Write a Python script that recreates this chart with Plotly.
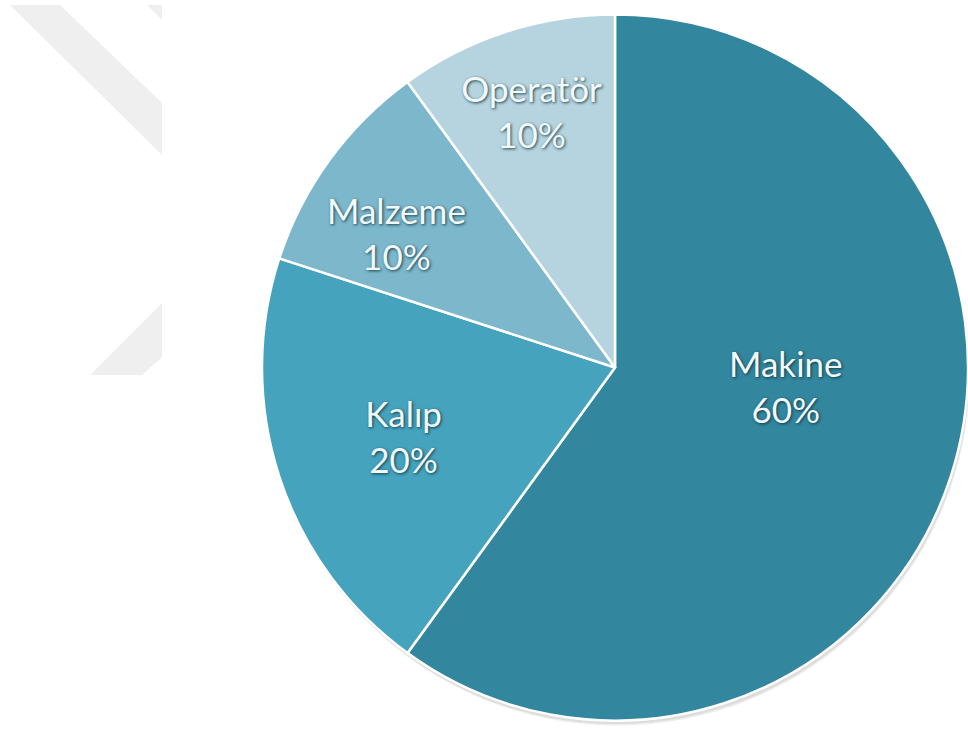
import math
import plotly.graph_objects as go

# Share of causes
categories = ["Makine", "Kalıp", "Malzeme", "Operatör"]
shares = [60, 20, 10, 10]
slice_colors = ["#32869e", "#45a3bd", "#7cb7cc", "#b6d4df"]

W, H = 968, 738

# Pie placement in pixels (centre and radius)
CX, CY, R = 615.0, 367.5, 353.0

label_font = dict(family="Lato", size=35, color="#f2f9fb",
                  shadow="1px 1px 3px rgba(10,50,60,0.9)")

# Slices whose label is set by hand: (clockwise angle from top in deg, radius fraction)
manual_labels = {"Makine": (96.2, 0.487), "Malzeme": (301.6, 0.728)}

text_pos = ["none" if c in manual_labels else "inside" for c in categories]

fig = go.Figure()

fig.add_trace(go.Pie(
    labels=categories,
    values=shares,
    sort=False,
    direction="clockwise",
    rotation=0,
    marker=dict(colors=slice_colors, line=dict(color="#ffffff", width=2.5)),
    texttemplate="%{label}<br>%{percent:.0%}",
    textposition=text_pos,
    insidetextorientation="horizontal",
    textfont=label_font,
    hoverinfo="label+percent",
    showlegend=False,
    domain=dict(x=[(CX - R) / W, min(1.0, (CX + R) / W)],
                y=[(H - CY - R) / H, (H - CY + R) / H]),
))

total = sum(shares)
for cat, val in zip(categories, shares):
    if cat not in manual_labels:
        continue
    ang, frac = manual_labels[cat]
    a = math.radians(ang)
    px = CX + frac * R * math.sin(a)
    py = CY - frac * R * math.cos(a)
    fig.add_annotation(
        x=px / W, y=1 - py / H, xref="paper", yref="paper",
        text=f"{cat}<br>{round(100 * val / total)}%",
        showarrow=False, xanchor="center", yanchor="middle",
        font=label_font, align="center",
    )

# Soft drop shadow under the pie
for off, col in [(5, "#ececec"), (3.5, "#dcdcdc")]:
    fig.add_shape(type="circle", xref="paper", yref="paper", layer="below",
                  x0=(CX - R + off * 0.4) / W, x1=(CX + R + off * 0.4) / W,
                  y0=1 - (CY + R + off) / H, y1=1 - (CY - R + off) / H,
                  fillcolor=col, line=dict(width=0))

# Faint chevron watermark in the upper-left corner
band = "#efefef"
fig.add_shape(type="path", xref="paper", yref="paper", layer="below",
              path=f"M {10/W} {1-5/H} L {60/W} {1-5/H} L {162/W} {1-103/H} "
                   f"L {162/W} {1-155/H} Z",
              fillcolor=band, line=dict(width=0))
fig.add_shape(type="path", xref="paper", yref="paper", layer="below",
              path=f"M {147/W} {1-5/H} L {162/W} {1-5/H} L {162/W} {1-20/H} Z",
              fillcolor=band, line=dict(width=0))
fig.add_shape(type="path", xref="paper", yref="paper", layer="below",
              path=f"M {90/W} {1-375/H} L {162/W} {1-303/H} L {162/W} {1-357/H} "
                   f"L {142/W} {1-375/H} Z",
              fillcolor=band, line=dict(width=0))

fig.update_layout(
    width=W, height=H,
    margin=dict(l=0, r=0, t=0, b=0),
    paper_bgcolor="#ffffff",
    plot_bgcolor="#ffffff",
)

fig.write_html("out.html")
